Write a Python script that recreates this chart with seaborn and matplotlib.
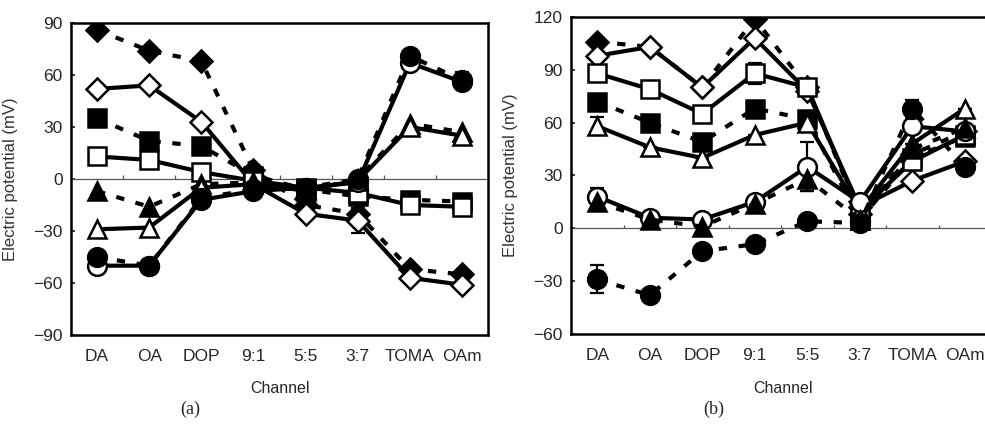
import numpy as np
import pandas as pd
import matplotlib
matplotlib.use('Agg')
import matplotlib.pyplot as plt
import seaborn as sns

channels = ['DA', 'OA', 'DOP', '9:1', '5:5', '3:7', 'TOMA', 'OAm']

# panel (a) values (mV)
a_dia_f = [86, 74, 68, 5, -15, -20, -52, -55]
a_dia_o = [52, 54, 33, -3, -20, -24, -57, -61]
a_sq_f = [35, 22, 19, 2, -6, -10, -12, -13]
a_sq_o = [13, 11, 4, -1, -5, -8, -15, -16]
a_tri_f = [-7, -16, -3, -2, -7, 0, 32, 27]
a_tri_o = [-29, -28, -5, -3, -6, -1, 30, 25]
a_cir_f = [-45, -50, -11, -6, -5, 0, 71, 57]
a_cir_o = [-50, -50, -12, -7, -5, -2, 67, 56]
a_err_dia_o = [0, 0, 0, 0, 3, 7, 0, 0]
a_err_cir_f = [0, 0, 0, 0, 0, 0, 0, 5]

# panel (b) values (mV)
b_dia_f = [106, 103, 80, 119, 80, 8, 42, 55]
b_dia_o = [98, 103, 80, 108, 78, 12, 27, 38]
b_sq_f = [72, 60, 49, 68, 62, 5, 40, 52]
b_sq_o = [88, 79, 65, 88, 80, 10, 38, 53]
b_tri_f = [15, 5, 1, 14, 28, 5, 45, 57]
b_tri_o = [58, 46, 40, 53, 60, 10, 48, 68]
b_cir_f = [-29, -38, -13, -9, 4, 3, 68, 35]
b_cir_o = [18, 6, 5, 15, 35, 15, 58, 55]
b_err_cir_f = [8, 0, 0, 0, 0, 0, 5, 0]
b_err_cir_o = [5, 0, 0, 0, 14, 0, 0, 0]
b_err_tri_f = [0, 0, 0, 0, 7, 0, 0, 0]
b_err_sq_o = [0, 0, 0, 6, 0, 0, 0, 0]
b_err_tri_o = [5, 0, 0, 0, 0, 0, 0, 0]

sns.set_theme(style='ticks')
plt.rcParams['font.family'] = ['Liberation Sans', 'DejaVu Sans']

fig = plt.figure(figsize=(9.85, 4.3), dpi=100)
ax1 = fig.add_axes([0.0721, 0.2209, 0.4234, 0.7256])
ax2 = fig.add_axes([0.5797, 0.2233, 0.4264, 0.7372])

x = np.arange(len(channels))
dash = (0, (2.0, 2.8))
sizes = {'D': 11, 's': 12.5, '^': 12.5, 'o': 13.5}


def draw(ax, vals, marker, filled, err=None):
    fc = 'black' if filled else 'white'
    ls = dash if filled else '-'
    if err is not None:
        ax.errorbar(x, vals, yerr=err, fmt='none', ecolor='black',
                    elinewidth=1.6, capsize=5, capthick=1.6, zorder=2)
    df = pd.DataFrame({'ch': x, 'v': vals})
    sns.lineplot(data=df, x='ch', y='v', ax=ax, color='black',
                 linewidth=3.0, linestyle=ls, marker=marker, markersize=sizes[marker],
                 markerfacecolor=fc, markeredgecolor='black',
                 markeredgewidth=1.8, zorder=3)


draw(ax1, a_dia_f, 'D', True)
draw(ax1, a_dia_o, 'D', False, a_err_dia_o)
draw(ax1, a_sq_f, 's', True)
draw(ax1, a_sq_o, 's', False)
draw(ax1, a_tri_f, '^', True)
draw(ax1, a_tri_o, '^', False)
draw(ax1, a_cir_o, 'o', False)
draw(ax1, a_cir_f, 'o', True, a_err_cir_f)

draw(ax2, b_dia_f, 'D', True)
draw(ax2, b_dia_o, 'D', False)
draw(ax2, b_sq_f, 's', True)
draw(ax2, b_sq_o, 's', False, b_err_sq_o)
draw(ax2, b_tri_o, '^', False, b_err_tri_o)
draw(ax2, b_cir_o, 'o', False, b_err_cir_o)
draw(ax2, b_tri_f, '^', True, b_err_tri_f)
draw(ax2, b_cir_f, 'o', True, b_err_cir_f)

for ax, lim, ticks in [(ax1, (-90, 90), np.arange(-90, 91, 30)),
                       (ax2, (-60, 120), np.arange(-60, 121, 30))]:
    ax.set_xlim(-0.5, 7.5)
    ax.set_ylim(*lim)
    ax.set_yticks(ticks)
    ax.set_yticklabels([str(t).replace('-', '\u2212') for t in ticks], fontsize=12.5)
    ax.set_xticks(x)
    ax.set_xticklabels(channels, fontsize=12.5)
    ax.tick_params(axis='x', length=0, pad=10)
    ax.tick_params(axis='y', length=3, direction='in', pad=6)
    ax.axhline(0, color='#555555', lw=0.9, zorder=1)
    ax.vlines(np.arange(0.5, 7.5), 0, (lim[1] - lim[0]) * 0.012,
              color='#555555', lw=0.9, zorder=1)
    for s in ax.spines.values():
        s.set_linewidth(1.8)
        s.set_color('black')
    ax.set_xlabel('Channel', fontsize=11.5)
    ax.set_ylabel('Electric potential (mV)', fontsize=12, color='#333333')
    ax.grid(False)

ax1.xaxis.set_label_coords(0.50, -0.147)
ax2.xaxis.set_label_coords(0.505, -0.148)
ax1.yaxis.set_label_coords(-0.127, 0.5)
ax2.yaxis.set_label_coords(-0.126, 0.5)

fig.text(0.193, 0.047, '(a)', fontsize=13, family='Liberation Serif', ha='center', va='center')
fig.text(0.725, 0.047, '(b)', fontsize=13, family='Liberation Serif', ha='center', va='center')

fig.savefig('out.png', dpi=100, facecolor='white')
